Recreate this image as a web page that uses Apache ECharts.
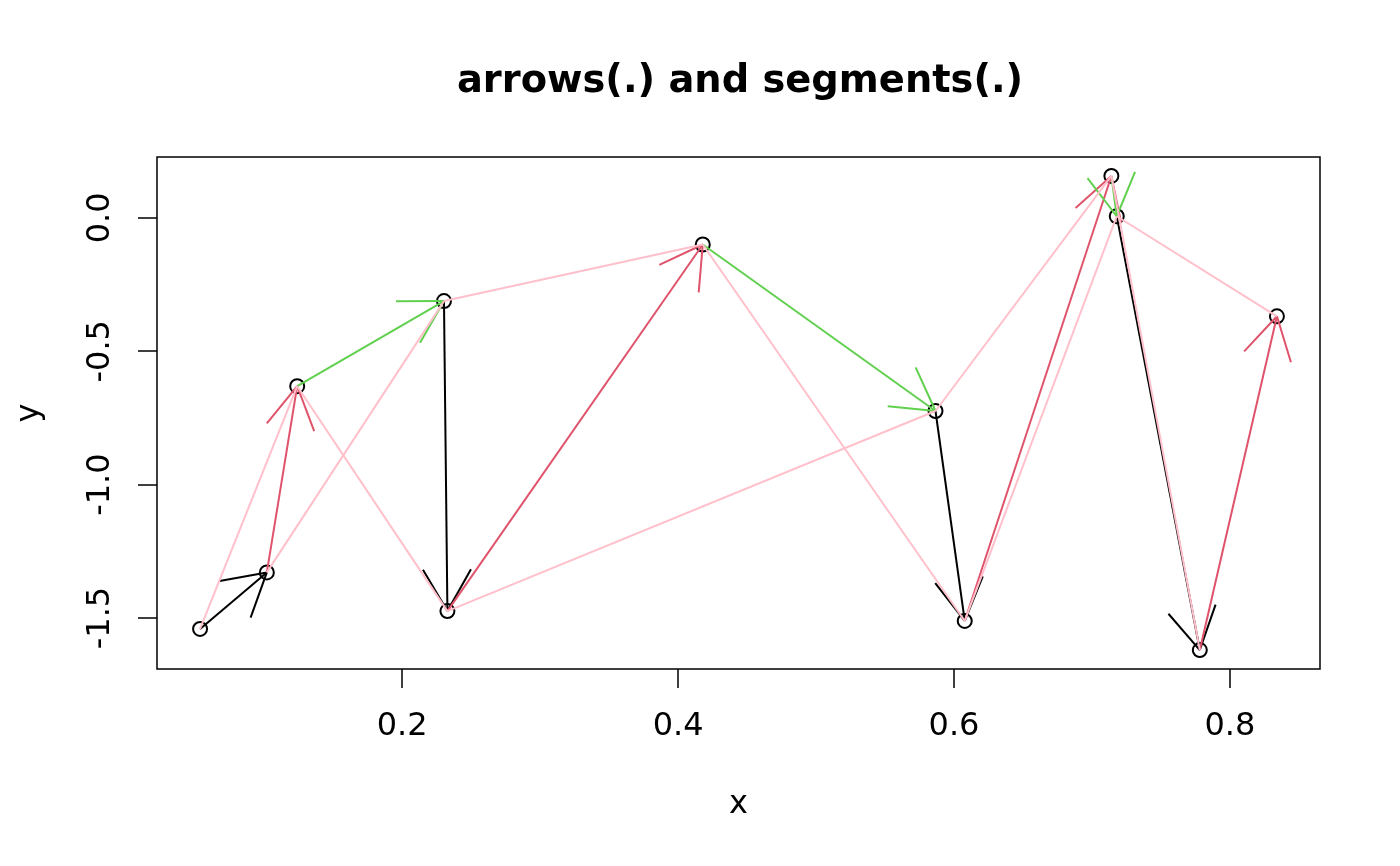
<!DOCTYPE html>
<html>
<head>
<meta charset="utf-8">
<script src="https://cdn.jsdelivr.net/npm/echarts@6/dist/echarts.min.js"></script>
<style>html,body{margin:0;padding:0;background:#fff;}#c{width:1400px;height:866px;}</style>
</head>
<body>
<div id="c"></div>
<script>
// Data (sorted by x)
var xs = [0.0535, 0.1019, 0.1239, 0.2303, 0.2328, 0.4179, 0.5866, 0.6078, 0.7141, 0.7180, 0.7782, 0.8341];
var ys = [-1.541, -1.329, -0.631, -0.312, -1.474, -0.100, -0.724, -1.511, 0.157, 0.006, -1.620, -0.369];
var arrowColors = ['#000000', '#DF536B', '#61D04F'];
var segColor = '#FFC0CB';
var xTicks = [0.2, 0.4, 0.6, 0.8];
var yTicks = [-1.5, -1.0, -0.5, 0.0];
var titleText = 'arrows(.) and segments(.)';
var xName = 'x', yName = 'y';

function ext(a) {
  var mn = Math.min.apply(null, a), mx = Math.max.apply(null, a), d = (mx - mn) * 0.04;
  return [mn - d, mx + d];
}
var xr = ext(xs), yr = ext(ys);

var points = xs.map(function (v, i) { return [v, ys[i]]; });
var arrows = [];
for (var i = 0; i < xs.length - 1; i++) arrows.push([xs[i], ys[i], xs[i + 1], ys[i + 1], i % 3]);
var segs = [];
for (var j = 0; j < xs.length - 2; j++) segs.push([xs[j], ys[j], xs[j + 2], ys[j + 2]]);

var LW = 2;
var FONT = 'DejaVu Sans';

var chart = echarts.init(document.getElementById('c'), null, { renderer: 'canvas' });
chart.setOption({
  backgroundColor: '#fff',
  animation: false,
  title: {
    text: titleText, left: 735, top: 58, textAlign: 'center',
    textStyle: { fontFamily: FONT, fontWeight: 'bold', fontSize: 38.4, color: '#000' }
  },
  grid: { left: 157, right: 80, top: 157, bottom: 197, show: true, borderColor: '#000', borderWidth: 1.5, backgroundColor: 'transparent' },
  xAxis: {
    type: 'value', min: xr[0], max: xr[1],
    name: xName, nameLocation: 'middle', nameGap: 136,
    nameTextStyle: { fontFamily: FONT, fontSize: 32, color: '#000', verticalAlign: 'middle' },
    axisLine: { show: false, onZero: false },
    splitLine: { show: false },
    axisTick: { show: true, inside: false, length: 19, customValues: xTicks, lineStyle: { color: '#000', width: 1.5 } },
    axisLabel: { customValues: xTicks, margin: 42, fontFamily: FONT, fontSize: 32, color: '#000', formatter: function (v) { return v.toFixed(1); } }
  },
  yAxis: {
    type: 'value', min: yr[0], max: yr[1],
    name: yName, nameLocation: 'middle', nameGap: 127,
    nameTextStyle: { fontFamily: FONT, fontSize: 32, color: '#000', verticalAlign: 'middle' },
    axisLine: { show: false, onZero: false },
    splitLine: { show: false },
    axisTick: { show: true, inside: false, length: 19, customValues: yTicks, lineStyle: { color: '#000', width: 1.5 } },
    axisLabel: { customValues: yTicks, rotate: 90, margin: 40, fontFamily: FONT, fontSize: 32, color: '#000', formatter: function (v) { return v.toFixed(1); } }
  },
  series: [
    {
      type: 'scatter', data: points, symbol: 'circle', symbolSize: 14, z: 2,
      itemStyle: { color: 'rgba(0,0,0,0)', borderColor: '#000', borderWidth: 2, opacity: 1 }
    },
    {
      type: 'custom', data: arrows, z: 3, encode: { x: [0, 2], y: [1, 3] },
      renderItem: function (params, api) {
        var p0 = api.coord([api.value(0), api.value(1)]);
        var p1 = api.coord([api.value(2), api.value(3)]);
        var col = arrowColors[api.value(4)];
        var ang = Math.atan2(p0[1] - p1[1], p0[0] - p1[0]);
        var L = 48, a = Math.PI / 6;
        var h1 = [p1[0] + L * Math.cos(ang + a), p1[1] + L * Math.sin(ang + a)];
        var h2 = [p1[0] + L * Math.cos(ang - a), p1[1] + L * Math.sin(ang - a)];
        var st = { stroke: col, lineWidth: LW, fill: null };
        return {
          type: 'group', children: [
            { type: 'line', shape: { x1: p0[0], y1: p0[1], x2: p1[0], y2: p1[1] }, style: st },
            { type: 'line', shape: { x1: p1[0], y1: p1[1], x2: h1[0], y2: h1[1] }, style: st },
            { type: 'line', shape: { x1: p1[0], y1: p1[1], x2: h2[0], y2: h2[1] }, style: st }
          ]
        };
      }
    },
    {
      type: 'custom', data: segs, z: 4, encode: { x: [0, 2], y: [1, 3] },
      renderItem: function (params, api) {
        var p0 = api.coord([api.value(0), api.value(1)]);
        var p1 = api.coord([api.value(2), api.value(3)]);
        return { type: 'line', shape: { x1: p0[0], y1: p0[1], x2: p1[0], y2: p1[1] }, style: { stroke: segColor, lineWidth: LW } };
      }
    }
  ]
});
</script>
</body>
</html>
